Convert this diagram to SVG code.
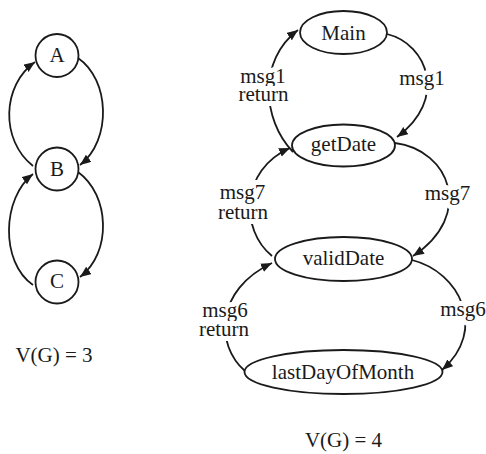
<svg xmlns="http://www.w3.org/2000/svg" width="486" height="454" viewBox="0 0 486 454">
  <style>
    .shape { fill: #fff; stroke: #1a1a1a; stroke-width: 1.8; }
    .edge { fill: none; stroke: #1a1a1a; stroke-width: 1.8; }
    text { font-family: "Liberation Serif", "Times New Roman", serif; font-size: 21px; fill: #1a1a1a; text-anchor: middle; }
    .lbl { stroke: #fff; stroke-width: 10; stroke-linejoin: round; paint-order: stroke; }
  </style>
  <defs>
    <marker id="arrow" markerUnits="userSpaceOnUse" markerWidth="12" markerHeight="10" refX="11" refY="4.5" orient="auto">
      <path d="M0,0 L11,4.5 L0,9 z" fill="#1a1a1a"/>
    </marker>
  </defs>
  <rect width="486" height="454" fill="#fff"/>

  <!-- connectors -->
  <g id="connectors">
    <path class="edge" d="M78,58 C110,80 112,140 80,165" marker-end="url(#arrow)"/>
    <path class="edge" d="M33,166 C0,140 2,85 35,62" marker-end="url(#arrow)"/>
    <path class="edge" d="M78,172 C110,195 112,253 80,277" marker-end="url(#arrow)"/>
    <path class="edge" d="M33,285 C0,262 2,198 33,174" marker-end="url(#arrow)"/>

    <path class="edge" d="M387,34 C428,44 448,100 397,137" marker-end="url(#arrow)"/>
    <path class="edge" d="M293,152 C262,120 258,60 298,30" marker-end="url(#arrow)"/>
    <path class="edge" d="M395,143 C450,150 475,215 413,256" marker-end="url(#arrow)"/>
    <path class="edge" d="M272,256 C240,230 240,170 290,148" marker-end="url(#arrow)"/>
    <path class="edge" d="M412,260 C460,272 488,330 442,370" marker-end="url(#arrow)"/>
    <path class="edge" d="M245,371 C215,345 215,290 272,263" marker-end="url(#arrow)"/>
  </g>

  <!-- left graph nodes -->
  <g id="A"><circle class="shape" cx="57" cy="55.5" r="21.5"/><text x="57" y="62">A</text></g>
  <g id="B"><circle class="shape" cx="57" cy="169" r="21.5"/><text x="57" y="176">B</text></g>
  <g id="C"><circle class="shape" cx="57" cy="282" r="21.5"/><text x="57" y="288">C</text></g>

  <!-- right graph nodes -->
  <g id="Main"><ellipse class="shape" cx="343.5" cy="32.5" rx="43.5" ry="21.5"/><text x="343.5" y="39.5">Main</text></g>
  <g id="getDate"><ellipse class="shape" cx="343.5" cy="145.5" rx="51.5" ry="21"/><text x="343.5" y="151">getDate</text></g>
  <g id="validDate"><ellipse class="shape" cx="343.5" cy="259" rx="68.5" ry="22"/><text x="343.5" y="265">validDate</text></g>
  <g id="lastDayOfMonth"><ellipse class="shape" cx="343.5" cy="372" rx="99" ry="22"/><text x="343" y="378.5">lastDayOfMonth</text></g>

  <!-- connector labels -->
  <g id="labels">
    <text class="lbl" y="83"><tspan x="263">msg1</tspan><tspan x="263.5" y="101">return</tspan></text>
    <text class="lbl" x="422" y="85">msg1</text>
    <text class="lbl" y="198.5"><tspan x="242.5">msg7</tspan><tspan x="243" y="219">return</tspan></text>
    <text class="lbl" x="447.5" y="200">msg7</text>
    <text class="lbl" y="316.5"><tspan x="225">msg6</tspan><tspan x="224" y="336">return</tspan></text>
    <text class="lbl" x="463" y="316">msg6</text>
  </g>

  <text x="54" y="362">V(G) = 3</text>
  <text x="343.5" y="446.5">V(G) = 4</text>
</svg>
